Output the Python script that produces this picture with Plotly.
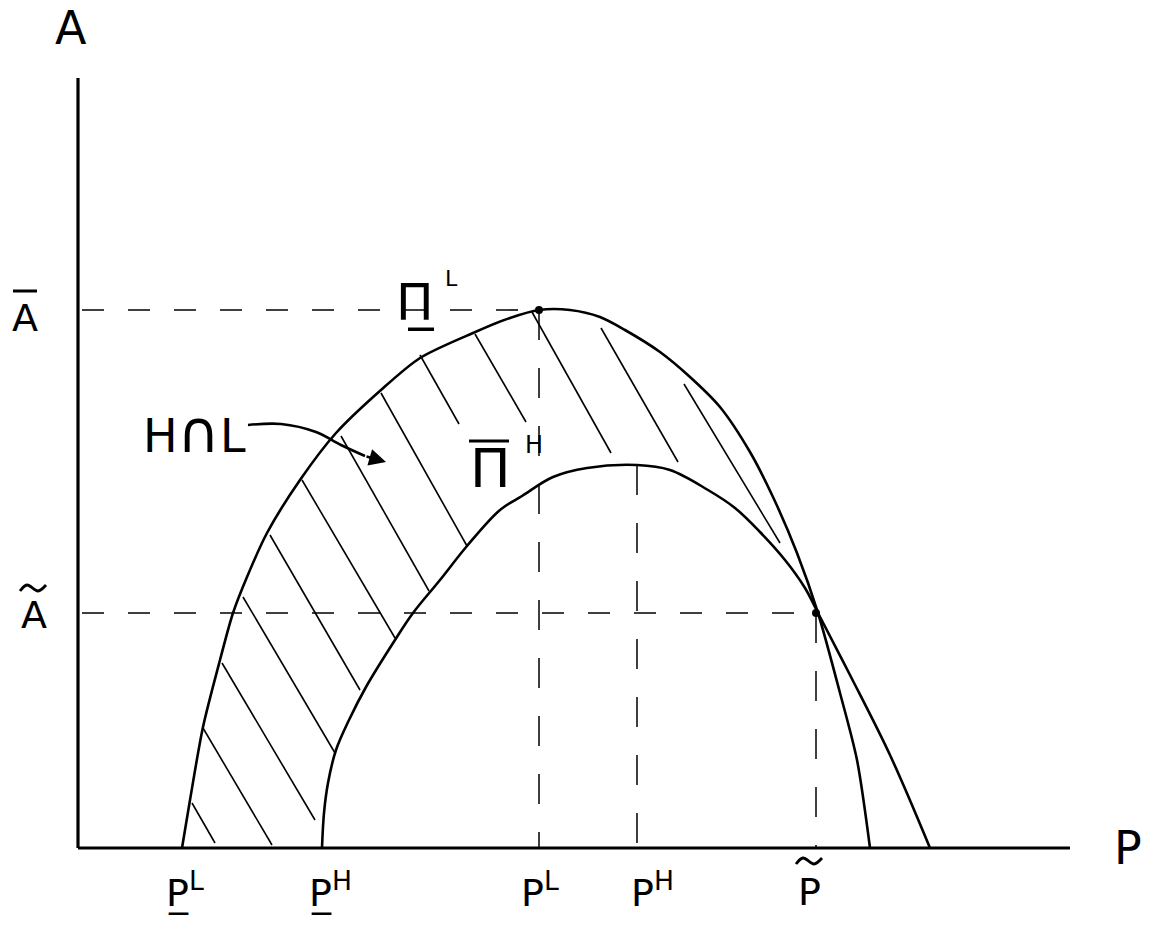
import plotly.graph_objects as go

# hand drawn diagram: two profit iso-curves in (P, A) space with hatched H n L region
# units: P to the right of the A axis, A above the P axis

# outer curve, Pi^L (underlined)
pl_x = [104, 112, 125, 142, 155, 169, 189, 222, 258, 303, 342, 395, 432, 461,
        492, 522, 547, 582, 612, 642, 672, 695, 719, 740, 762, 779, 792]
pl_y = [0, 48, 121, 188, 235, 271, 315, 368, 415, 458, 490, 515, 530, 538,
        538, 531, 518, 496, 471, 441, 396, 351, 295, 235, 155, 88, 0]

# inner curve, Pi^H (overlined)
ph_x = [244, 246, 250, 258, 271, 288, 317, 335, 362, 389, 422, 444, 475, 509, 559,
        592, 630, 657, 682, 707, 727, 740, 772, 812, 852]
ph_y = [0, 35, 65, 98, 128, 161, 208, 235, 268, 302, 338, 352, 371, 380, 383,
        378, 358, 340, 316, 288, 260, 235, 173, 93, 0]

# hatch strokes (start, end)
hatch_x0 = [114, 125, 144, 165, 192, 224, 263, 303, 342, 397, 454, 523, 606]
hatch_y0 = [45, 120, 185, 251, 313, 368, 412, 455, 493, 514, 536, 520, 464]
hatch_x1 = [137, 194, 237, 257, 282, 317, 351, 389, 381, 448, 533, 600, 702]
hatch_y1 = [5, 3, 28, 95, 158, 210, 257, 302, 424, 426, 395, 386, 305]

# marked values
a_bar, a_tilde = 538, 235
p_L, p_H, p_tilde = 461, 559, 738
axis_top, axis_right = 770, 992

# "H n L" pointer
arrow_x = [170, 203, 238, 263, 287]
arrow_y = [423, 424, 416, 403, 392]
arrow_tip = (308, 386)

fig = go.Figure()

black = "black"

# axes
fig.add_trace(go.Scatter(x=[0, 0], y=[0, axis_top], mode="lines",
                         line=dict(color=black, width=3.2)))
fig.add_trace(go.Scatter(x=[0, axis_right], y=[0, 0], mode="lines",
                         line=dict(color=black, width=3.2)))

# dashed guides
dash = "22px,24px"
fig.add_trace(go.Scatter(x=[4, p_L], y=[a_bar, a_bar], mode="lines",
                         line=dict(color=black, width=1.6, dash=dash)))
fig.add_trace(go.Scatter(x=[4, p_tilde], y=[a_tilde, a_tilde], mode="lines",
                         line=dict(color=black, width=1.6, dash=dash)))
for px, top in [(p_L, a_bar), (p_H, 383), (p_tilde, a_tilde)]:
    fig.add_trace(go.Scatter(x=[px, px], y=[top, 0], mode="lines",
                             line=dict(color=black, width=1.5, dash="30px,28px")))

# hatching
hx, hy = [], []
for x0, y0, x1, y1 in zip(hatch_x0, hatch_y0, hatch_x1, hatch_y1):
    hx += [x0, x1, None]
    hy += [y0, y1, None]
fig.add_trace(go.Scatter(x=hx, y=hy, mode="lines",
                         line=dict(color=black, width=1.6)))

# curves
fig.add_trace(go.Scatter(x=pl_x, y=pl_y, mode="lines",
                         line=dict(color=black, width=2.6, shape="spline", smoothing=0.8)))
fig.add_trace(go.Scatter(x=ph_x, y=ph_y, mode="lines",
                         line=dict(color=black, width=2.6, shape="spline", smoothing=1.0)))

# points
fig.add_trace(go.Scatter(x=[p_L, p_tilde], y=[a_bar, a_tilde], mode="markers",
                         marker=dict(color=black, size=8)))

# pointer curve
fig.add_trace(go.Scatter(x=arrow_x, y=arrow_y, mode="lines",
                         line=dict(color=black, width=2.6, shape="spline")))
fig.add_annotation(x=arrow_tip[0], y=arrow_tip[1], ax=arrow_x[-1], ay=arrow_y[-1],
                   xref="x", yref="y", axref="x", ayref="y", text="",
                   showarrow=True, arrowhead=2, arrowsize=1.3, arrowwidth=2.6,
                   arrowcolor=black)

font = "DejaVu Sans"

def label(x, y, text, size, **kw):
    fig.add_annotation(x=x, y=y, xref="x", yref="y", text=text, showarrow=False,
                       font=dict(family=font, size=size, color=black), **kw)

def bar(xc, y, half):
    fig.add_trace(go.Scatter(x=[xc - half, xc + half], y=[y, y], mode="lines",
                             line=dict(color=black, width=3)))

def tilde(xc, y):
    fig.add_trace(go.Scatter(x=[xc - 13, xc - 6, xc + 5, xc + 13],
                             y=[y - 3, y + 3, y - 3, y + 3], mode="lines",
                             line=dict(color=black, width=2.8, shape="spline")))

label(-7, 820, "A", 46)
label(1050, 0, "P", 46)

# A bar / A tilde
label(-53, 530, "A", 38)
bar(-53, 557, 12)
label(-44, 233, "A", 38)
tilde(-45, 260)

# P axis labels
label(86, -42, "P\u0332<sup>L</sup>", 38, xanchor="left")
label(229, -42, "P\u0332<sup>H</sup>", 38, xanchor="left")
label(441, -42, "P<sup>L</sup>", 38, xanchor="left")
label(551, -42, "P<sup>H</sup>", 38, xanchor="left")
label(731, -44, "P", 38)
tilde(731, -13)

# curve labels
label(337, 546, "\u03a0\u0332", 50)
label(373, 570, "L", 22)
label(412, 380, "\u03a0", 54)
bar(411, 407, 20)
label(456, 403, "H", 24)
label(116, 416, "H<span style='font-size:58px'>\u2229</span>L", 46)

fig.update_layout(
    width=1155, height=930,
    margin=dict(l=0, r=0, t=0, b=0),
    paper_bgcolor="white", plot_bgcolor="white",
    showlegend=False, hovermode=False,
    xaxis=dict(range=[-78, 1077], visible=False, fixedrange=True),
    yaxis=dict(range=[-82, 848], visible=False, fixedrange=True),
)

fig.write_html("out.html", config={"displayModeBar": False},
               post_script="document.body.style.margin='0';")
